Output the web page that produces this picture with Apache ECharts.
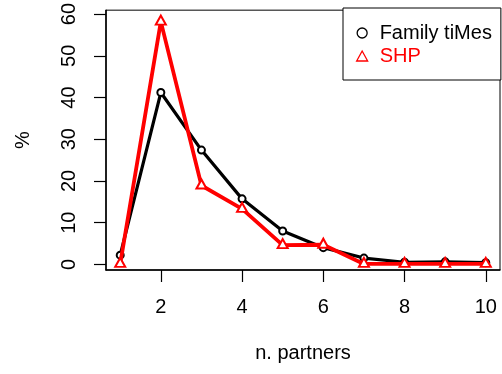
<!DOCTYPE html>
<html>
<head>
<meta charset="utf-8">
<script src="https://cdn.jsdelivr.net/npm/echarts@6/dist/echarts.min.js"></script>
<style>
  html, body { margin: 0; padding: 0; background: #fff; }
  #chart { width: 502px; height: 374px; }
</style>
</head>
<body>
<div id="chart"></div>
<script>
// Number of partners (x) and share of respondents in % (y)
const partners = [1, 2, 3, 4, 5, 6, 7, 8, 9, 10];
const familyTimes = [2.2, 41.2, 27.4, 15.7, 8.0, 4.0, 1.5, 0.5, 0.6, 0.4];
const shp = [0.1, 58.2, 18.9, 13.3, 4.6, 4.7, 0.1, 0.1, 0.1, 0.1];
const xTicks = [2, 4, 6, 8, 10];
const yTicks = [0, 10, 20, 30, 40, 50, 60];

const FONT = '"Liberation Sans", Arial, Helvetica, sans-serif';

const chart = echarts.init(document.getElementById('chart'), null, { renderer: 'canvas' });

const pairs = (ys) => partners.map((x, i) => [x, ys[i]]);

chart.setOption({
  animation: false,
  backgroundColor: '#fff',
  textStyle: { fontFamily: FONT },
  grid: {
    left: 106, right: 2, top: 8, bottom: 104,
    show: true, borderColor: '#000', borderWidth: 1, backgroundColor: 'transparent'
  },
  xAxis: {
    type: 'value',
    min: 0.65, max: 10.35,
    name: 'n. partners',
    nameLocation: 'middle',
    nameGap: 73,
    nameTextStyle: { fontSize: 20, color: '#000', fontFamily: FONT },
    axisLine: { show: true, onZero: false, lineStyle: { color: '#000', width: 1.5 } },
    splitLine: { show: false },
    axisTick: { show: true, length: 12, customValues: xTicks, lineStyle: { color: '#000', width: 1.2 } },
    axisLabel: { customValues: xTicks, margin: 27, fontSize: 20, color: '#000', fontFamily: FONT }
  },
  yAxis: {
    type: 'value',
    min: -1.36, max: 60.95,
    name: '%',
    nameLocation: 'middle',
    nameGap: 73,
    nameTextStyle: { fontSize: 20, color: '#000', fontFamily: FONT },
    axisLine: { show: true, onZero: false, lineStyle: { color: '#000', width: 1.5 } },
    splitLine: { show: false },
    axisTick: { show: true, length: 12, customValues: yTicks, lineStyle: { color: '#000', width: 1.2 } },
    axisLabel: { customValues: yTicks, rotate: 90, margin: 27, fontSize: 20, color: '#000', fontFamily: FONT }
  },
  legend: {
    orient: 'vertical',
    left: 343, top: 8,
    padding: [15, 9, 14, 13],
    itemGap: 3,
    itemWidth: 11, itemHeight: 10,
    borderColor: '#000', borderWidth: 1,
    backgroundColor: '#fff',
    textStyle: { fontSize: 20, fontFamily: FONT, padding: [0, 0, 0, 7] },
    data: [
      { name: 'Family tiMes', icon: 'circle',
        itemStyle: { color: 'transparent', borderColor: '#000', borderWidth: 1.3 },
        textStyle: { color: '#000' } },
      { name: 'SHP', icon: 'triangle',
        itemStyle: { color: 'transparent', borderColor: '#ff0000', borderWidth: 1.3 },
        textStyle: { color: '#ff0000' } }
    ]
  },
  series: [
    {
      name: 'Family tiMes',
      type: 'line',
      data: pairs(familyTimes),
      symbol: 'emptyCircle',
      symbolSize: 7,
      color: '#000',
      lineStyle: { color: '#000', width: 3.2 },
      itemStyle: { color: '#000', borderColor: '#000', borderWidth: 3.6 },
      z: 2
    },
    {
      name: 'SHP',
      type: 'line',
      data: pairs(shp),
      symbol: 'emptyTriangle',
      symbolSize: [10, 9],
      symbolOffset: [0, -1.5],
      color: '#ff0000',
      lineStyle: { color: '#ff0000', width: 3.8 },
      itemStyle: { color: '#ff0000', borderColor: '#ff0000', borderWidth: 3.8 },
      z: 3
    }
  ]
});
</script>
</body>
</html>
